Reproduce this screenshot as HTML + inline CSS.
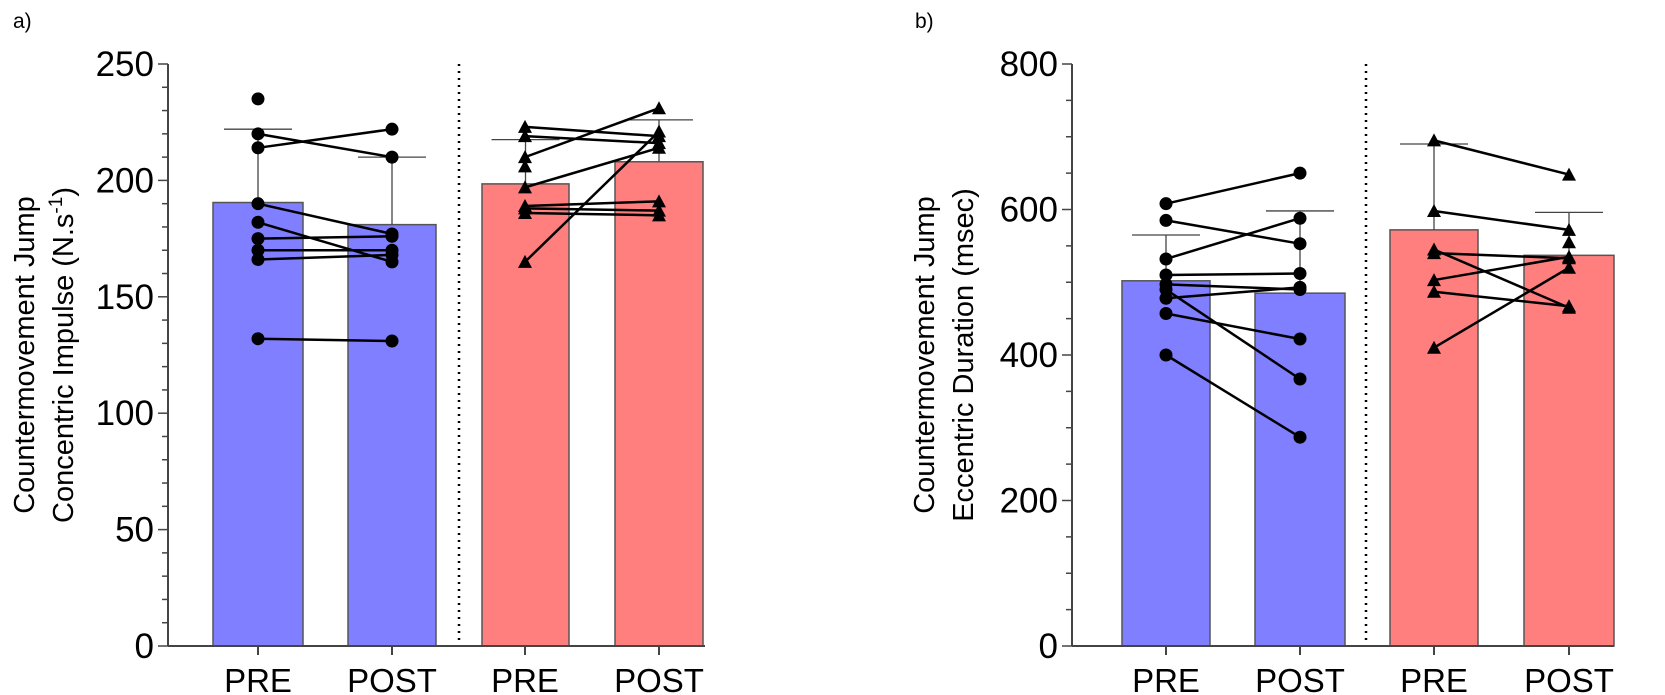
<!DOCTYPE html>
<html><head><meta charset="utf-8"><style>body{margin:0;background:#fff}svg{display:block}text{font-family:"Liberation Sans",sans-serif;fill:#000}</style></head>
<body>
<svg id="s" width="1665" height="695" xmlns="http://www.w3.org/2000/svg"></svg>
<script>
const s=document.getElementById('s');let h='';
function L(x1,y1,x2,y2,w,c,d){h+=`<line x1="${x1}" y1="${y1}" x2="${x2}" y2="${y2}" stroke="${c||'#000'}" stroke-width="${w||1}" ${d?`stroke-dasharray="${d}"`:''}/>`;}
function T(x,y,t,sz,a,extra){h+=`<text x="${x}" y="${y}" font-size="${sz}" text-anchor="${a||'middle'}" ${extra||''}>${t}</text>`;}
function panel(o){
 const Y=v=>o.y0-(v/o.max)*(o.y0-o.yt);
 o.bars.forEach((b,i)=>{const c=i<2?'#7f7fff':'#ff7f7f';
  h+=`<rect x="${b[0]}" y="${Y(b[2])}" width="${b[1]-b[0]}" height="${o.y0-Y(b[2])}" fill="${c}" stroke="#555" stroke-width="1.5"/>`;
  const cx=(b[0]+b[1])/2;L(cx,Y(b[2]),cx,Y(b[3]),1.3,'#444');L(cx-34,Y(b[3]),cx+34,Y(b[3]),1.3,'#444');});
 o.pairs.forEach((p,gi)=>{const xa=o.cx[gi*2],xb=o.cx[gi*2+1];
  p.forEach(q=>{if(q[0]!=null&&q[1]!=null)L(xa,Y(q[0]),xb,Y(q[1]),2.5);
   [[xa,q[0]],[xb,q[1]]].forEach(m=>{if(m[1]==null)return;const y=Y(m[1]);
    if(gi==0)h+=`<circle cx="${m[0]}" cy="${y}" r="6.5" fill="#000"/>`;
    else h+=`<polygon points="${m[0]},${y-7} ${m[0]-7},${y+6} ${m[0]+7},${y+6}" fill="#000"/>`;});});});
 L(o.dot,o.yt,o.dot,o.y0-6,2.5,'#000','2 5');
 L(o.ax,o.yt,o.ax,o.y0,2,'#444');L(o.ax,o.y0,o.xe,o.y0,2,'#444');
 for(let v=0;v<=o.max+0.01;v+=o.minor){const y=Y(v);const maj=Math.abs(v/o.major-Math.round(v/o.major))<1e-6;
  L(o.ax-(maj?10:6),y,o.ax,y,1.5,'#444');if(maj)T(o.ax-14,y+12,v,35,'end');}
 o.cx.forEach((c,i)=>{L(c,o.y0,c,o.y0+9,2,'#444');T(c,o.y0+46,i%2?'POST':'PRE',33);});
 h+=`<text transform="translate(${o.tx},${(o.y0+o.yt)/2}) rotate(-90)" font-size="29" text-anchor="middle"><tspan x="0" y="0">Countermovement Jump</tspan><tspan x="0" y="39">${o.t2}</tspan></text>`;
 T(o.lx,28,o.lab,21,'start');
}
panel({y0:646,yt:64,max:250,major:50,minor:10,ax:168,xe:705,dot:459,tx:34,lx:13,lab:'a)',
 t2:'Concentric Impulse (N.s<tspan dy="-11" font-size="19">-1</tspan><tspan dy="11">)</tspan>',
 cx:[258,392,525,659],
 bars:[[213,303,190.5,222],[348,436,181,210],[482,569,198.5,217.5],[615,703,208,226]],
 pairs:[[[235,null],[220,210],[214,222],[190,177],[182,165],[175,176],[170,170],[166,168],[132,131]],
        [[223,219],[219,216],[210,231],[206,null],[197,214],[189,191],[188,187],[186,185],[165,221]]]});
panel({y0:646,yt:64,max:800,major:200,minor:50,ax:1072,xe:1614,dot:1366,tx:934,lx:915,lab:'b)',
 t2:'Eccentric Duration (msec)',
 cx:[1166,1300,1434,1569],
 bars:[[1122,1210,502,565],[1255,1345,485,598],[1390,1478,572,690],[1524,1614,537,596]],
 pairs:[[[608,650],[585,553],[532,588],[510,512],[497,490],[490,367],[478,493],[457,422],[400,287]],
        [[695,648],[598,572],[545,465],[540,533],[503,535],[487,467],[410,520],[null,555]]]});
s.innerHTML=h;
</script>
</body></html>
